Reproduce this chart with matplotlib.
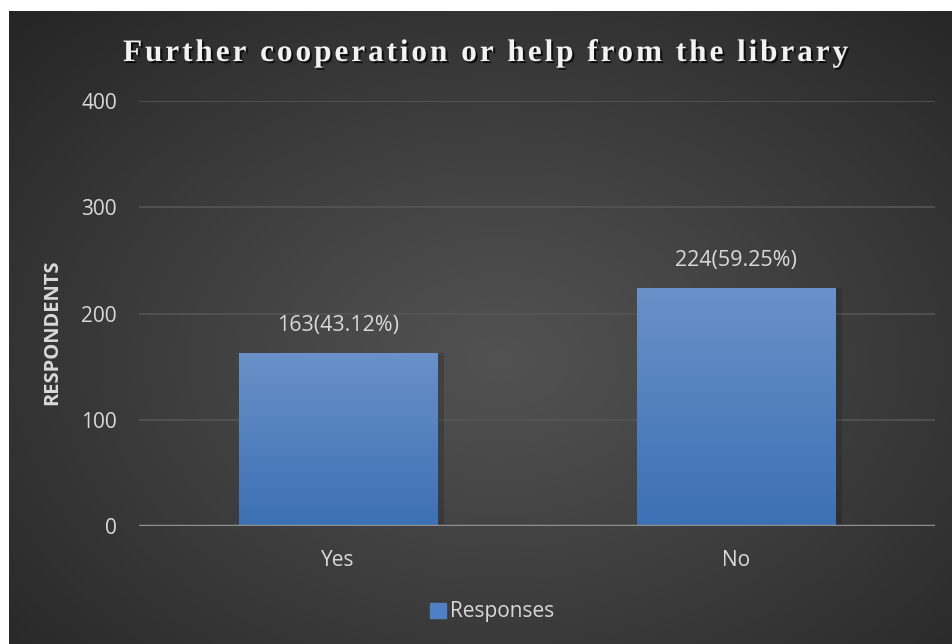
import matplotlib.pyplot as plt
import matplotlib.patheffects as pe
from matplotlib.font_manager import FontProperties
import numpy as np

# ---- data ----
categories = ['Yes', 'No']
responses = [163, 224]
percents = [43.12, 59.25]
yticks = [0, 100, 200, 300, 400]
title = 'Further cooperation or help from the library'
series_name = 'Responses'

plt.rcParams['font.family'] = ['Open Sans', 'DejaVu Sans']
txt_col = '#d9d9d9'

fig = plt.figure(figsize=(9.52, 6.44), dpi=100)
fig.patch.set_facecolor('white')

# dark panel with radial glow
bg = fig.add_axes([9 / 952, 0, 1 - 9 / 952, 1 - 11 / 644])
bg.set_axis_off()
yy, xx = np.mgrid[0:1:300j, 0:1:400j]
r = np.sqrt(((xx - 0.52) / 0.75) ** 2 + ((yy - 0.45) / 0.8) ** 2)
shade = 0.32 - 0.18 * np.clip(r, 0, 1) ** 1.1
bg.imshow(np.dstack([shade] * 3), extent=[0, 1, 0, 1], aspect='auto', origin='lower')
bg.set_xlim(0, 1)
bg.set_ylim(0, 1)

ax = fig.add_axes([139 / 952, 1 - 526 / 644, 796 / 952, 425 / 644])
ax.patch.set_alpha(0)
x = np.arange(len(categories))
bars = ax.bar(x, responses, width=0.5, color='#5580c0', zorder=2)

# vertical gradient fill on each bar
grad = np.linspace(0, 1, 256).reshape(-1, 1)
top = np.array([106, 145, 200]) / 255
bot = np.array([60, 112, 180]) / 255
gimg = bot + (top - bot) * grad[..., None]
for b in bars:
    bx, bw, bh = b.get_x(), b.get_width(), b.get_height()
    # soft shadow on the right side
    ax.bar(bx + bw + 0.008, bh, width=0.016, align='center', color='black', alpha=0.15, zorder=1)
    im = ax.imshow(gimg.reshape(256, 1, 3), extent=[bx, bx + bw, 0, bh], origin='lower',
                   aspect='auto', zorder=3)
    im.set_clip_path(b)

for xi, v, p in zip(x, responses, percents):
    ax.text(xi, v + 16, '{}({:.2f}%)'.format(v, p), ha='center', va='bottom',
            color=txt_col, fontsize=15.5, zorder=5)

ax.set_xlim(-0.5, 1.5)
ax.set_ylim(0, 400)
ax.set_yticks(yticks)
ax.set_yticklabels([str(t) for t in yticks])
ax.set_xticks(x)
ax.set_xticklabels(categories)
ax.tick_params(length=0, colors=txt_col, labelsize=15)
ax.tick_params(axis='y', pad=16)
ax.tick_params(axis='x', pad=17)
for s in ax.spines.values():
    s.set_visible(False)
ax.yaxis.grid(True, color='#555555', linewidth=1.2, zorder=0)
ax.set_axisbelow(True)
ax.axhline(0, color='#8f8f8f', linewidth=2.5, zorder=4)

ax.set_ylabel('RESPONDENTS', color=txt_col, fontsize=14.5, fontweight='bold')
ax.yaxis.set_label_coords(-0.096, 0.455)

# legend, centred on the panel
fig.canvas.draw()
leg = fig.legend([bars[0]], [series_name], loc='center', bbox_to_anchor=(492 / 952, 1 - 612 / 644),
                 frameon=False, fontsize=15, handlelength=0.75, handleheight=0.75,
                 handletextpad=0.2, labelcolor=txt_col)
leg.legend_handles[0].set_color('#4f7fc4')

# title, spread out letter by letter
fig.canvas.draw()
rend = fig.canvas.get_renderer()
fp = FontProperties(family='Liberation Serif', weight='bold', size=22.5)
widths = [rend.get_text_width_height_descent(c, fp, ismath=False)[0] for c in title]
span = 725.0
gap = (span - sum(widths)) / (len(title) - 1)
xpos = 123.0
fx = []
for w in widths:
    fx.append(xpos)
    xpos += w + gap
shadow = [pe.SimplePatchShadow(offset=(1.5, -1.5), shadow_rgbFace='black', alpha=0.7), pe.Normal()]
for c, px in zip(title, fx):
    if c == ' ':
        continue
    fig.text(px / 952, 1 - 61 / 644, c, fontproperties=fp, color='#f2f2f2',
             ha='left', va='baseline', path_effects=shadow)

fig.savefig('out.png', dpi=100, facecolor=fig.get_facecolor())
